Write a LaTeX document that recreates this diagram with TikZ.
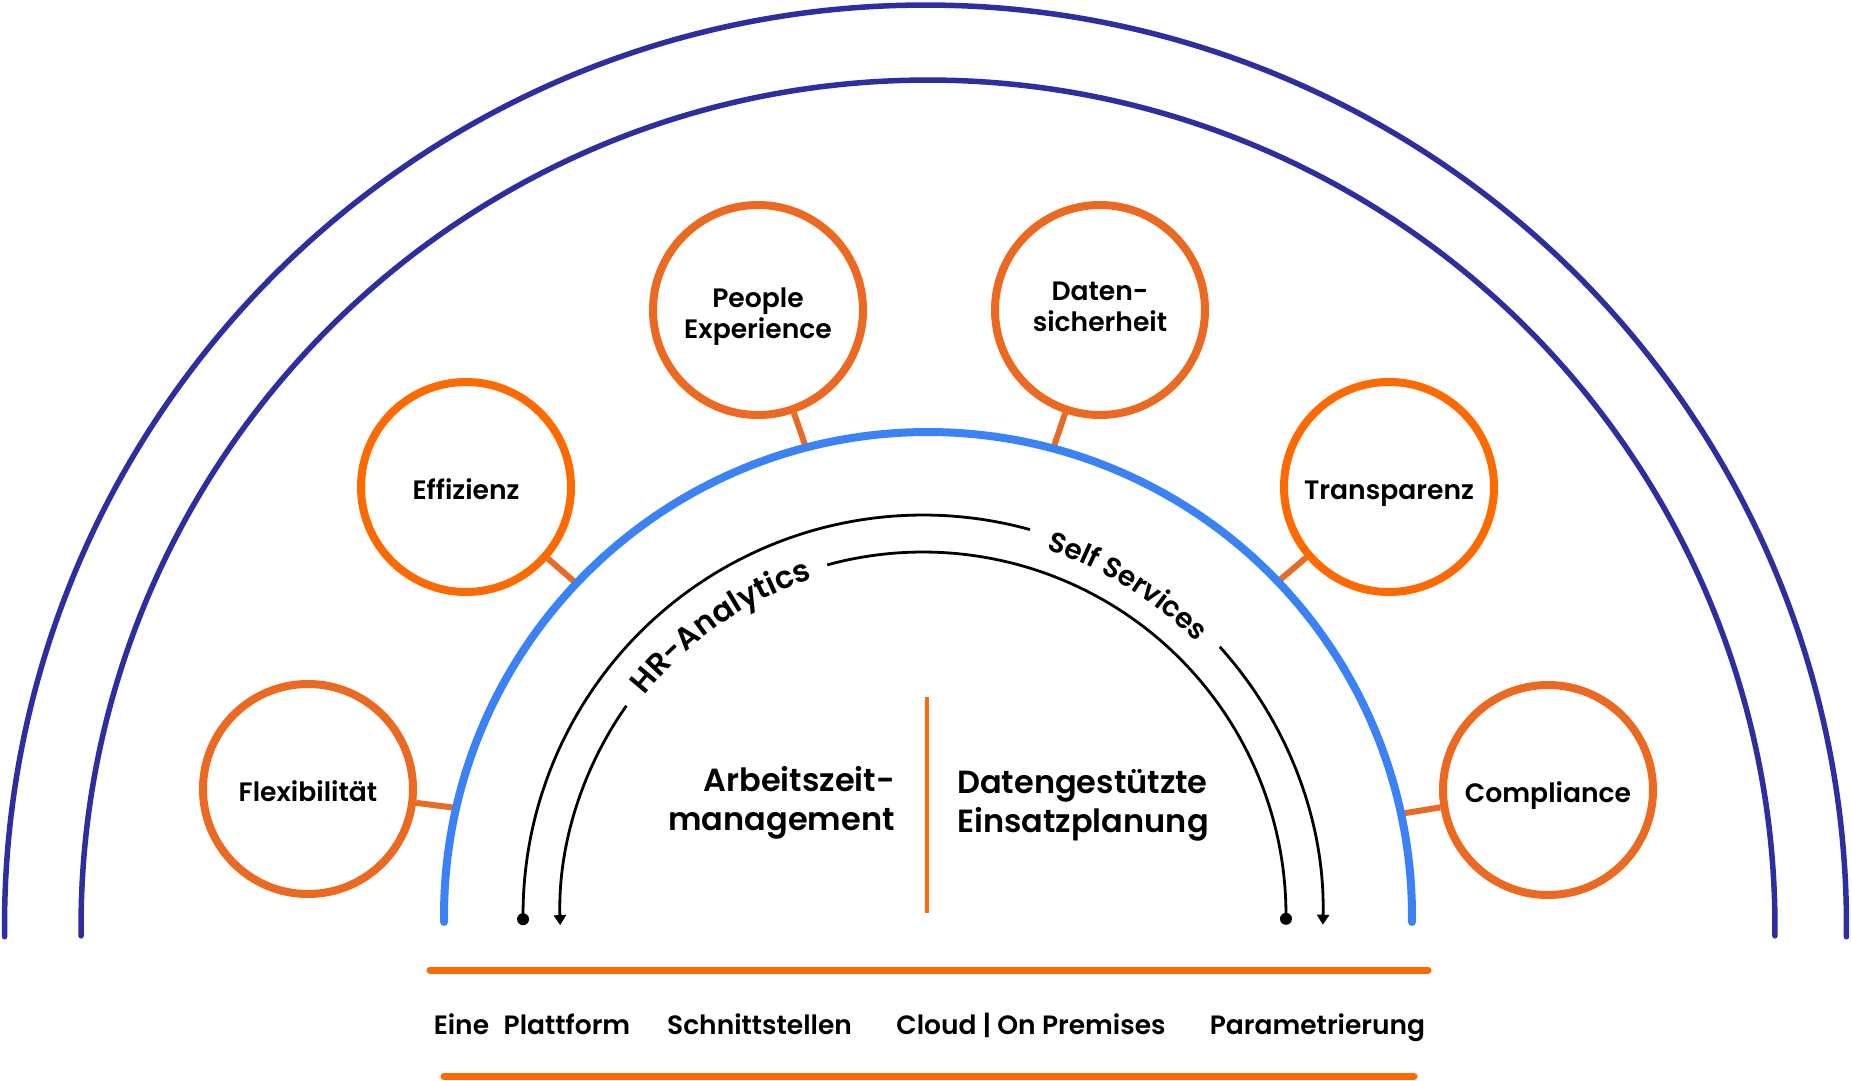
\documentclass[tikz,border=0pt]{standalone}
\usepackage{fontspec}
\setmainfont{Poppins}[UprightFont=* SemiBold, BoldFont=* Bold]
\usetikzlibrary{calc,decorations.text,arrows.meta}
\definecolor{darkarc}{RGB}{46,46,160}
\definecolor{bluearc}{RGB}{59,130,246}
\definecolor{orA}{RGB}{235,105,32}
\definecolor{orB}{RGB}{255,106,0}
\definecolor{stubc}{RGB}{232,106,37}
\begin{document}
\begin{tikzpicture}[x=1pt,y=1pt,
  bubble/.style={circle, draw=orA, line width=8pt, minimum size=210pt, inner sep=0pt,
    align=center, font=\fontsize{26.6}{31}\selectfont, text=black, text depth=0pt},
  oneline/.style={text height=24pt},
  bubbleB/.style={bubble, draw=orB},
  stubline/.style={draw=stubc, line width=6pt},
  darkline/.style={draw=darkarc, line width=5.5pt, line cap=round},
  blueline/.style={draw=bluearc, line width=8pt, line cap=round},
  blkline/.style={draw=black, line width=2.8pt},
  dotnode/.style={circle, fill=black, minimum size=12pt, inner sep=0pt},
  ctext/.style={font=\fontsize{32}{38.3}\selectfont, inner sep=0pt},
  btext/.style={font=\fontsize{26.5}{30}\selectfont, inner sep=0pt, anchor=base},
  orline/.style={draw=orB, line width=7pt, line cap=round}]
\useasboundingbox (0,0) rectangle (1852,-1081);
\fill[white] (0,0) rectangle (1852,-1081);

% outer dark arcs
\coordinate (dc1) at (925.5,-926);
\coordinate (dc2) at (928,-927);
\coordinate (da1) at ($(dc1)+(180.67:921)$);
\coordinate (da2) at ($(dc2)+(180.6:847)$);
\draw[darkline] (da1) arc[start angle=180.67, end angle=-0.67, radius=921];
\draw[darkline] (da2) arc[start angle=180.6, end angle=-0.6, radius=847];

% bubbles
\node[bubble, oneline]  (flex)   at (308,-789)  {Flexibilität};
\node[bubbleB, oneline] (eff)    at (466,-487)  {Effizienz};
\node[bubble, text height=57pt]  (people) at (758,-310)  {People\\Experience};
\node[bubble, text depth=7pt]  (daten)  at (1100,-310) {Daten-\\sicherheit};
\node[bubbleB, oneline] (trans)  at (1389,-487) {Transparenz};
\node[bubble, oneline]  (compl)  at (1548,-790) {Compliance};

% blue arc centre and stub ends
\coordinate (bc) at (928,-916);
\coordinate (s1) at ($(bc)+(167.1:484)$);
\coordinate (s2) at ($(bc)+(136.6:484)$);
\coordinate (s3) at ($(bc)+(104.6:484)$);
\coordinate (s4) at ($(bc)+(75.0:484)$);
\coordinate (s5) at ($(bc)+(43.7:484)$);
\coordinate (s6) at ($(bc)+(12.2:484)$);
\draw[stubline] (flex) -- (s1);
\draw[stubline] (eff) -- (s2);
\draw[stubline] (people) -- (s3);
\draw[stubline] (daten) -- (s4);
\draw[stubline] (trans) -- (s5);
\draw[stubline] (compl) -- (s6);

\coordinate (ba) at ($(bc)+(180.7:484)$);
\draw[blueline] (ba) arc[start angle=180.7, end angle=-0.7, radius=484];

% black cycle arcs
\coordinate (kc) at (923,-915);
\coordinate (o1) at ($(kc)+(180.6:400)$);
\coordinate (o2) at ($(kc)+(42.1:400)$);
\coordinate (i1) at ($(kc)+(-0.6:363)$);
\coordinate (i2) at ($(kc)+(144.8:363)$);
\draw[blkline] (o1) arc[start angle=180.6, end angle=74.5, radius=400];
\draw[blkline, -{Triangle[width=12pt,length=10pt]}] (o2) arc[start angle=42.1, end angle=-1.4, radius=400];
\draw[blkline] (i1) arc[start angle=-0.6, end angle=105.3, radius=363];
\draw[blkline, -{Triangle[width=12pt,length=10pt]}] (i2) arc[start angle=144.8, end angle=181.6, radius=363];
\node[dotnode] (dotL) at (o1) {};
\node[dotnode] (dotR) at (i1) {};

% texts along arcs
\path[decorate, decoration={text along path, text align=center,
   text={|\fontsize{31}{34}\selectfont|HR-Analytics}}]
   ($(kc)+(145.5:354)$) arc[start angle=145.5, end angle=104.5, radius=354];
\path[decorate, decoration={text along path, text align=center,
   text={|\fontsize{28}{31}\selectfont|Self Services}}]
   ($(kc)+(74.6:386)$) arc[start angle=74.6, end angle=41.6, radius=386];

% centre
\node[ctext, anchor=base east, align=right] (arb) at (895,-830) {Arbeitszeit-\\management};
\node[ctext, anchor=base west, align=left] (dat) at (957,-832) {Datengestützte\\Einsatzplanung};
\coordinate (vt) at (927,-697);
\coordinate (vb) at (927,-913);
\draw[draw=orB, line width=4pt] (vt) -- (vb);

% bottom band
\coordinate (l1a) at (430,-970);
\coordinate (l1b) at (1428,-970);
\coordinate (l2a) at (444,-1076.5);
\coordinate (l2b) at (1414,-1076.5);
\draw[orline] (l1a) -- (l1b);
\draw[orline] (l2a) -- (l2b);
\node[btext] (p1) at (532,-1034.5) {Eine\hspace{0.55em}Plattform};
\node[btext] (p2) at (759.5,-1034.5) {Schnittstellen};
\node[btext] (p3) at (1031,-1034.5) {Cloud | On Premises};
\node[btext] (p4) at (1317.5,-1034.5) {Parametrierung};
\end{tikzpicture}
\end{document}
